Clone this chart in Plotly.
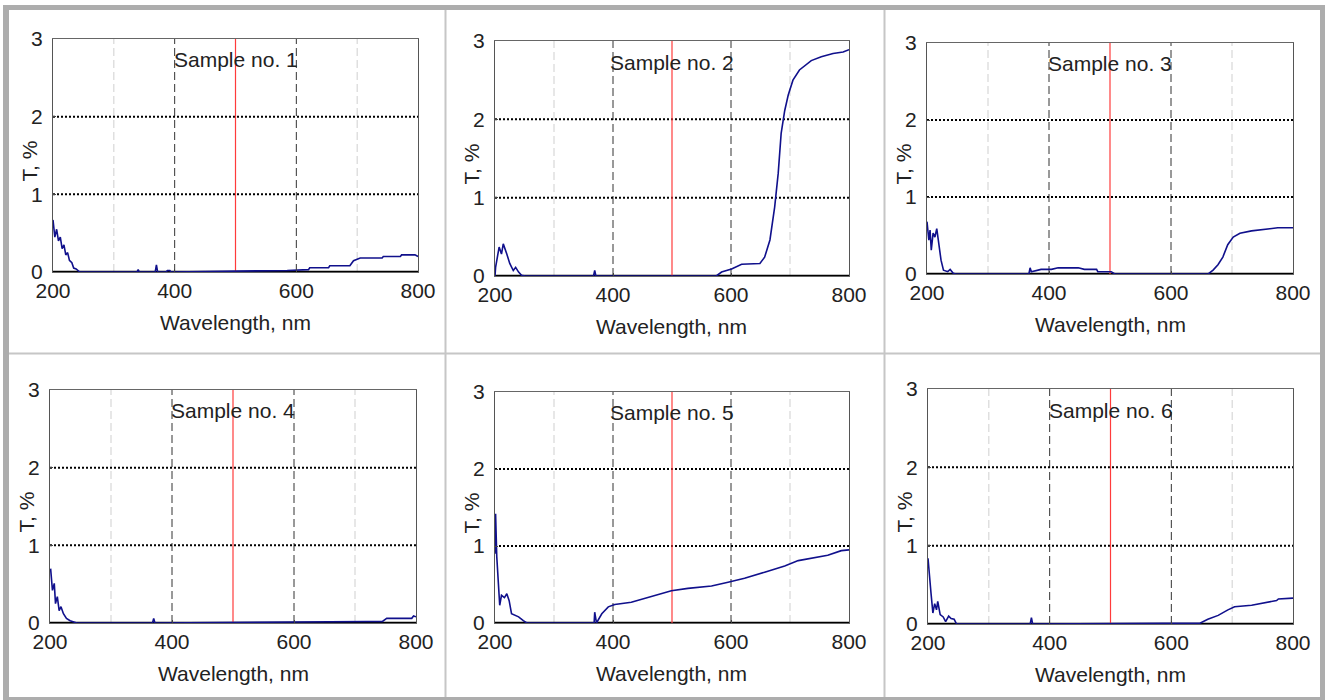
import plotly.graph_objects as go

# ---------------- data ----------------
sample_names = ["Sample no. 1", "Sample no. 2", "Sample no. 3",
                "Sample no. 4", "Sample no. 5", "Sample no. 6"]

wl_1 = [200, 203, 206, 209, 212, 215, 218, 221, 224, 227, 231, 234, 238, 244,
        338, 340, 342, 368, 370, 372, 386, 388, 392, 394, 585, 620, 622, 653,
        655, 688, 694, 705, 741, 743, 771, 773, 795, 800]
t_1 = [0.67, 0.45, 0.55, 0.40, 0.45, 0.30, 0.35, 0.22, 0.25, 0.15, 0.12, 0.05, 0.04, 0.0,
       0.0, 0.03, 0.0, 0.0, 0.09, 0.0, 0.0, 0.02, 0.02, 0.0, 0.02, 0.03, 0.055, 0.055,
       0.08, 0.08, 0.145, 0.18, 0.18, 0.2, 0.2, 0.22, 0.22, 0.2]

wl_2 = [200, 201, 207, 211, 214, 217, 220, 225, 231, 235, 240, 245, 251, 367, 369, 371,
        575, 584, 601, 618, 649, 657, 666, 674, 680, 685, 691, 697, 705, 716, 736,
        753, 773, 790, 800]
t_2 = [0.0, 0.11, 0.37, 0.28, 0.41, 0.35, 0.28, 0.16, 0.07, 0.11, 0.05, 0.01, 0.0, 0.0, 0.07, 0.0,
       0.0, 0.05, 0.09, 0.15, 0.16, 0.24, 0.46, 0.88, 1.31, 1.82, 2.11, 2.31, 2.50, 2.63, 2.75,
       2.80, 2.84, 2.86, 2.89]

wl_3 = [200, 203, 205, 207, 210, 213, 216, 220, 223, 227, 234, 238, 243, 247, 367, 369,
        371, 387, 404, 415, 448, 458, 478, 480, 502, 508, 661, 669, 677, 685, 693, 702,
        713, 732, 759, 775, 800]
t_3 = [0.68, 0.44, 0.57, 0.31, 0.53, 0.48, 0.59, 0.35, 0.18, 0.05, 0.03, 0.06, 0.01, 0.0, 0.0, 0.08,
       0.03, 0.06, 0.06, 0.08, 0.08, 0.06, 0.06, 0.03, 0.03, 0.0, 0.0, 0.05, 0.12, 0.22, 0.38, 0.48,
       0.53, 0.56, 0.58, 0.60, 0.60]

wl_4 = [201, 204, 207, 209, 212, 215, 218, 222, 227, 233, 244, 368, 370, 372, 720, 745,
        752, 793, 796, 800]
t_4 = [0.70, 0.42, 0.51, 0.25, 0.34, 0.16, 0.21, 0.12, 0.06, 0.03, 0.0, 0.0, 0.06, 0.0, 0.02, 0.02,
       0.06, 0.06, 0.09, 0.08]

wl_5 = [200, 201, 203, 206, 208, 211, 216, 220, 224, 228, 234, 240, 248, 254, 368, 369, 372,
        381, 392, 403, 431, 465, 499, 527, 567, 595, 623, 657, 691, 714, 736, 764, 787, 800]
t_5 = [0.9, 1.42, 0.86, 0.51, 0.23, 0.36, 0.33, 0.38, 0.29, 0.12, 0.10, 0.08, 0.03, 0.0, 0.0, 0.14, 0.0,
       0.12, 0.21, 0.24, 0.27, 0.35, 0.42, 0.45, 0.48, 0.53, 0.58, 0.66, 0.74, 0.81, 0.84, 0.88,
       0.94, 0.95]

wl_6 = [200, 203, 205, 208, 211, 214, 216, 220, 225, 229, 234, 238, 243, 247, 368, 370, 372,
        588, 647, 660, 677, 693, 704, 732, 759, 773, 776, 800]
t_6 = [0.84, 0.52, 0.39, 0.14, 0.26, 0.18, 0.29, 0.12, 0.09, 0.03, 0.10, 0.07, 0.06, 0.0, 0.0, 0.08, 0.0,
       0.01, 0.01, 0.06, 0.11, 0.18, 0.22, 0.24, 0.28, 0.30, 0.32, 0.33]

wavelengths = [wl_1, wl_2, wl_3, wl_4, wl_5, wl_6]
transmissions = [t_1, t_2, t_3, t_4, t_5, t_6]

x_ticks = [200, 400, 600, 800]
y_ticks = [0, 1, 2, 3]
x_grid_dark = [400, 600]
x_grid_light = [300, 700]
y_grid = [1, 2]
marker_wavelength = 500
x_range = [200, 800]
y_range = [0, 3]

# ---------------- layout geometry (pixels) ----------------
W, H = 1325, 700
panels_px = [  # x0, x1, y0(top), y1(bottom)
    (53, 418, 39, 272),
    (495, 849, 41, 276),
    (927, 1293, 43, 274),
    (50, 416, 390, 623),
    (495, 849, 392, 623),
    (928, 1293, 389, 624),
]

FONT = "Liberation Sans, Arial, sans-serif"
TXT = "#222222"
CURVE = "#10108c"
RED = "#ff3b3b"

fig = go.Figure()
shapes = []
annotations = []
layout = dict(
    template="none",
    width=W, height=H,
    margin=dict(l=0, r=0, t=0, b=0, autoexpand=False),
    paper_bgcolor="white", plot_bgcolor="white",
    showlegend=False, hovermode=False,
    font=dict(family=FONT, size=20, color=TXT),
)


def px_x(x):
    return x / W


def px_y(y):
    return 1 - y / H


for i, (x0, x1, y0, y1) in enumerate(panels_px):
    n = i + 1
    xa = "xaxis" if n == 1 else f"xaxis{n}"
    ya = "yaxis" if n == 1 else f"yaxis{n}"
    xr = "x" if n == 1 else f"x{n}"
    yr = "y" if n == 1 else f"y{n}"
    layout[xa] = dict(
        domain=[px_x(x0), px_x(x1)], anchor=yr, range=x_range,
        tickvals=x_ticks, ticks="inside", ticklen=3, tickcolor="#444",
        showgrid=False, zeroline=False, showline=True, linecolor="#666",
        linewidth=1, mirror=True, fixedrange=True, automargin=False,
        showspikes=False,
        tickfont=dict(family=FONT, size=21, color=TXT),
        ticklabelstandoff=0,
    )
    layout[ya] = dict(
        domain=[px_y(y1), px_y(y0)], anchor=xr, range=y_range,
        tickvals=y_ticks, ticks="inside", ticklen=3, tickcolor="#444",
        showgrid=False, zeroline=False, showline=True, linecolor="#555",
        linewidth=1, mirror=True, fixedrange=True, automargin=False,
        showspikes=False,
        tickfont=dict(family=FONT, size=21, color=TXT),
        ticklabelstandoff=5,
    )
    # grid lines
    for gx in x_grid_light:
        shapes.append(dict(type="line", xref=xr, yref=yr, x0=gx, x1=gx, y0=0, y1=3,
                           line=dict(color="#cfcfcf", width=1, dash="8px,4px"), layer="below"))
    for gx in x_grid_dark:
        shapes.append(dict(type="line", xref=xr, yref=yr, x0=gx, x1=gx, y0=0, y1=3,
                           line=dict(color="#333333", width=1, dash="8px,4px"), layer="below"))
    for gy in y_grid:
        shapes.append(dict(type="line", xref=xr, yref=yr, x0=200, x1=800, y0=gy, y1=gy,
                           line=dict(color="#000000", width=2, dash="2px,2px"), layer="below"))
    # bottom axis line (thick black)
    shapes.append(dict(type="line", xref=xr, yref=yr, x0=200, x1=800, y0=0, y1=0,
                       line=dict(color="#000000", width=2.5), layer="below"))

    # red marker line at 500 nm
    fig.add_trace(go.Scatter(x=[marker_wavelength, marker_wavelength], y=y_range, mode="lines",
                             line=dict(color=RED, width=1.2), xaxis=xr, yaxis=yr,
                             hoverinfo="skip"))
    fig.add_trace(go.Scatter(x=wavelengths[i], y=transmissions[i], mode="lines",
                             line=dict(color=CURVE, width=1.6), xaxis=xr, yaxis=yr,
                             hoverinfo="skip"))

    # panel label
    annotations.append(dict(xref=xr, yref=yr, x=500, y=2.73, text=sample_names[i],
                            showarrow=False, xanchor="center", yanchor="middle",
                            font=dict(family=FONT, size=21, color=TXT)))
    # axis titles
    annotations.append(dict(xref="paper", yref="paper", x=px_x((x0 + x1) / 2), y=px_y(y1 + 50),
                            text="Wavelength, nm", showarrow=False, xanchor="center",
                            yanchor="middle", font=dict(family=FONT, size=21, color=TXT)))
    annotations.append(dict(xref="paper", yref="paper", x=px_x(x0 - 24), y=px_y((y0 + y1) / 2 + 6),
                            text="T, %", showarrow=False, textangle=-90, xanchor="center",
                            yanchor="middle", font=dict(family=FONT, size=21, color=TXT)))

# ---------------- frame ----------------
FRAME = "#adadad"
DIV = "#c6c6c6"
frame_rects = [
    (3, 1325, 5, 10, FRAME),
    (3, 9, 5, 700, FRAME),
    (1320, 1325, 5, 700, FRAME),
    (3, 1325, 697, 700, FRAME),
    (444.5, 446.5, 10, 697, DIV),
    (883.5, 885.5, 10, 697, DIV),
    (9, 1320, 352.5, 354.5, DIV),
]
for (a, b, c, d, col) in frame_rects:
    shapes.append(dict(type="rect", xref="paper", yref="paper",
                       x0=px_x(a), x1=px_x(b), y0=px_y(d), y1=px_y(c),
                       line=dict(width=0, color=col), fillcolor=col, layer="above"))

layout["shapes"] = shapes
layout["annotations"] = annotations
fig.update_layout(**layout)
fig.write_html(
    "out.html",
    config={"displayModeBar": False, "staticPlot": True},
    post_script="document.body.style.margin='0';document.body.style.overflow='hidden';",
)
